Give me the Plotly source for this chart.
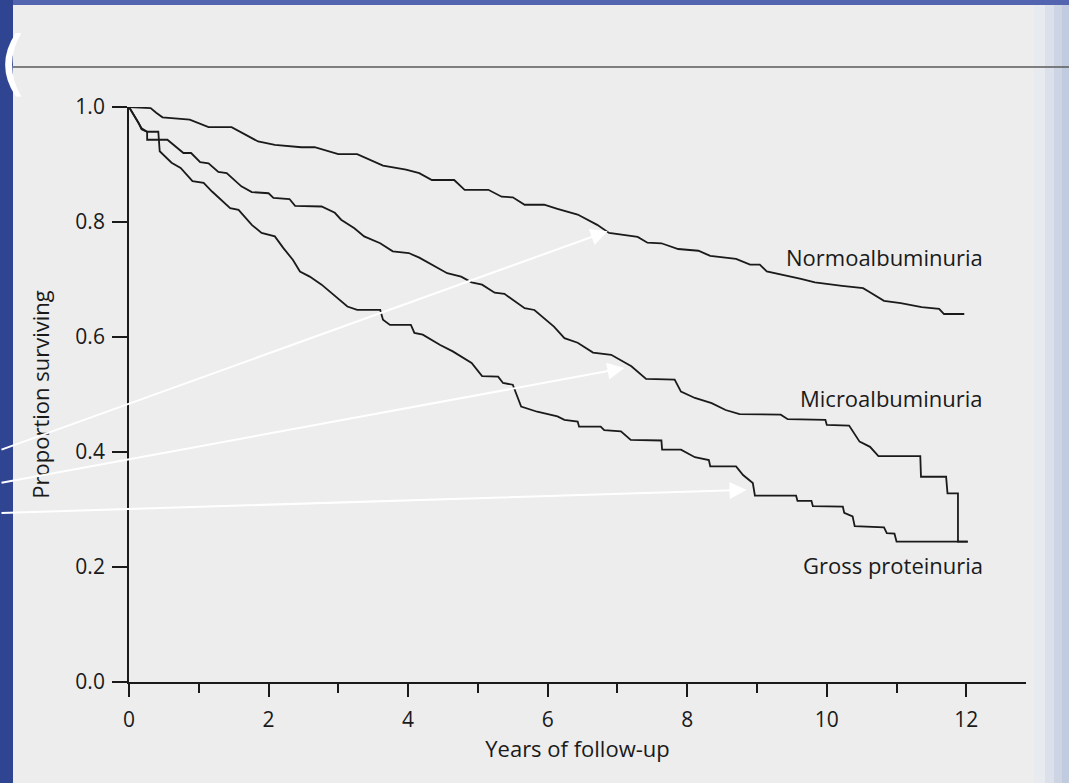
import plotly.graph_objects as go

# ---------------- data ----------------
normo_t = [0, 0.31, 0.39, 0.48, 0.87, 1.14, 1.47, 1.85, 2.09, 2.47, 2.66, 3.00, 3.27, 3.64, 3.97,
           4.16, 4.34, 4.66, 4.81, 5.15, 5.34, 5.50, 5.67, 5.95, 6.14, 6.43, 6.71, 6.88, 7.29, 7.43,
           7.63, 7.87, 8.16, 8.33, 8.70, 8.90, 9.04, 9.14, 9.63, 9.83, 10.22, 10.52, 10.60, 10.82,
           11.06, 11.36, 11.61, 11.68, 11.97]
normo_s = [1.000, 0.998, 0.990, 0.982, 0.978, 0.965, 0.965, 0.940, 0.934, 0.930, 0.930, 0.918, 0.918,
           0.898, 0.891, 0.885, 0.873, 0.873, 0.856, 0.856, 0.844, 0.843, 0.830, 0.830, 0.823, 0.813,
           0.795, 0.781, 0.774, 0.764, 0.763, 0.753, 0.750, 0.741, 0.736, 0.726, 0.726, 0.714, 0.701,
           0.695, 0.689, 0.685, 0.679, 0.663, 0.659, 0.652, 0.649, 0.640, 0.640]

micro_t = [0, 0.18, 0.26, 0.26, 0.55, 0.78, 0.89, 1.02, 1.14, 1.28, 1.40, 1.61, 1.76, 2.00, 2.07,
           2.30, 2.38, 2.76, 2.95, 3.04, 3.23, 3.37, 3.60, 3.78, 4.01, 4.16, 4.56, 4.76, 4.91, 5.06,
           5.24, 5.38, 5.67, 5.81, 6.09, 6.24, 6.43, 6.65, 6.91, 7.20, 7.41, 7.82, 7.91, 8.11, 8.35,
           8.55, 8.75, 9.04, 9.34, 9.44, 9.98, 10.00, 10.32, 10.47, 10.62, 10.74, 11.34, 11.35, 11.71,
           11.73, 11.88, 11.88, 12.02]
micro_s = [1.000, 0.963, 0.957, 0.943, 0.943, 0.920, 0.920, 0.904, 0.902, 0.887, 0.885, 0.862, 0.852,
           0.850, 0.842, 0.840, 0.828, 0.827, 0.816, 0.804, 0.789, 0.775, 0.763, 0.749, 0.746, 0.738,
           0.711, 0.705, 0.695, 0.691, 0.677, 0.675, 0.650, 0.647, 0.618, 0.598, 0.590, 0.573, 0.569,
           0.549, 0.527, 0.526, 0.505, 0.494, 0.485, 0.473, 0.466, 0.465, 0.465, 0.457, 0.456, 0.447,
           0.446, 0.418, 0.409, 0.393, 0.393, 0.357, 0.357, 0.328, 0.328, 0.244, 0.244]

gross_t = [0, 0.14, 0.18, 0.26, 0.42, 0.44, 0.61, 0.74, 0.91, 1.07, 1.19, 1.45, 1.57, 1.76, 1.90,
           2.09, 2.21, 2.35, 2.45, 2.59, 2.76, 2.90, 3.13, 3.27, 3.60, 3.64, 3.74, 4.04, 4.09, 4.21,
           4.46, 4.64, 4.91, 5.06, 5.29, 5.36, 5.50, 5.62, 5.85, 6.14, 6.24, 6.43, 6.45, 6.76, 6.81,
           7.05, 7.19, 7.63, 7.64, 7.91, 8.11, 8.31, 8.33, 8.70, 8.80, 8.94, 8.97, 9.56, 9.58, 9.78,
           9.80, 10.23, 10.25, 10.37, 10.40, 10.82, 10.86, 10.97, 11.00, 12.02]
gross_s = [1.000, 0.972, 0.961, 0.957, 0.957, 0.923, 0.903, 0.894, 0.871, 0.868, 0.853, 0.824, 0.821,
           0.795, 0.781, 0.775, 0.755, 0.734, 0.714, 0.705, 0.691, 0.676, 0.653, 0.647, 0.647, 0.630,
           0.621, 0.621, 0.607, 0.604, 0.586, 0.575, 0.555, 0.532, 0.531, 0.520, 0.517, 0.479, 0.470,
           0.462, 0.456, 0.453, 0.444, 0.444, 0.438, 0.436, 0.421, 0.420, 0.404, 0.404, 0.391, 0.386,
           0.375, 0.375, 0.360, 0.346, 0.324, 0.324, 0.315, 0.315, 0.306, 0.305, 0.294, 0.288, 0.271,
           0.269, 0.259, 0.258, 0.244, 0.244]

series_names = ["Normoalbuminuria", "Microalbuminuria", "Gross proteinuria"]
label_y = [0.740, 0.494, 0.204]
arrow_tip_t = [6.86, 7.10, 8.85]
arrow_tip_s = [0.784, 0.546, 0.334]

x_major = [0, 2, 4, 6, 8, 10, 12]
x_minor = [1, 3, 5, 7, 9, 11]
y_ticks = [0.0, 0.2, 0.4, 0.6, 0.8, 1.0]
y_ticktext = ["0.0", "0.2", "0.4", "0.6", "0.8", "1.0"]

# ---------------- figure ----------------
INK = "#1a1a1a"
PAGE = "#ededed"
FONT = "Open Sans"

fig = go.Figure()
for t, s, name in [(normo_t, normo_s, series_names[0]),
                   (micro_t, micro_s, series_names[1]),
                   (gross_t, gross_s, series_names[2])]:
    fig.add_trace(go.Scatter(x=t, y=s, mode="lines", name=name, showlegend=False,
                             line=dict(color=INK, width=1.8), cliponaxis=False,
                             hoverinfo="x+y+name"))

W, H = 1069, 783
L, R, T, B = 129, 43, 107, 101
pw, ph = W - L - R, H - T - B


def px(x):
    return (x - L) / pw


def py(y):
    return (H - B - y) / ph


shapes = [
    # blue slide background strips (left and top)
    dict(type="rect", xref="paper", yref="paper", x0=px(-10), x1=px(13), y0=py(800), y1=py(-10),
         fillcolor="#2f4592", line=dict(width=0), layer="below"),
    dict(type="rect", xref="paper", yref="paper", x0=px(13), x1=px(1080), y0=py(5), y1=py(-10),
         fillcolor="#5364b0", line=dict(width=0), layer="below"),
    # bluish scan edge at right
    dict(type="rect", xref="paper", yref="paper", x0=px(1034), x1=px(1045), y0=py(800), y1=py(5),
         fillcolor="#e7eaef", line=dict(width=0), layer="below"),
    dict(type="rect", xref="paper", yref="paper", x0=px(1045), x1=px(1054), y0=py(800), y1=py(5),
         fillcolor="#dbe0ea", line=dict(width=0), layer="below"),
    dict(type="rect", xref="paper", yref="paper", x0=px(1054), x1=px(1062), y0=py(800), y1=py(5),
         fillcolor="#cdd5e4", line=dict(width=0), layer="below"),
    dict(type="rect", xref="paper", yref="paper", x0=px(1062), x1=px(1080), y0=py(800), y1=py(5),
         fillcolor="#c0cbdf", line=dict(width=0), layer="below"),
    # horizontal rule at top of page
    dict(type="line", xref="paper", yref="paper", x0=px(13), x1=px(1080), y0=py(67), y1=py(67),
         line=dict(color="#5a5a5a", width=1.5)),
]

annotations = []
for name, ly in zip(series_names, label_y):
    annotations.append(dict(x=12.27, y=ly, xref="x", yref="y", text=name, showarrow=False,
                            xanchor="right", yanchor="middle",
                            font=dict(family=FONT, size=22, color=INK)))

tails = [(-617, 219), (-633, 115), (-754, 23)]
for tt, ss, (ax, ay) in zip(arrow_tip_t, arrow_tip_s, tails):
    annotations.append(dict(x=tt, y=ss, xref="x", yref="y", text="", showarrow=True,
                            ax=ax, ay=ay, arrowhead=2, arrowsize=1.7, arrowwidth=2,
                            arrowcolor="white", standoff=0))

# fragment of the slide title at top-left
annotations.append(dict(x=px(-3), y=py(62), xref="paper", yref="paper", text="(",
                        showarrow=False, xanchor="left", yanchor="middle",
                        font=dict(family="DejaVu Sans", size=72, color="white")))

fig.update_layout(
    width=W, height=H,
    margin=dict(l=L, r=R, t=T, b=B, pad=0),
    paper_bgcolor=PAGE, plot_bgcolor=PAGE,
    font=dict(family=FONT, color=INK, size=20),
    shapes=shapes, annotations=annotations,
    xaxis=dict(range=[0, 12.855], showgrid=False, zeroline=False,
               showline=True, linecolor=INK, linewidth=1.8,
               tickvals=x_major, ticks="outside", ticklen=13, tickwidth=1.7, tickcolor=INK,
               minor=dict(tickvals=x_minor, ticks="outside", ticklen=9, tickwidth=1.7, tickcolor=INK),
               tickfont=dict(family=FONT, size=21, color=INK), ticklabelstandoff=5,
               title=dict(text="Years of follow-up", font=dict(family=FONT, size=22, color=INK),
                          standoff=8)),
    yaxis=dict(range=[0, 1.0], showgrid=False, zeroline=False,
               showline=True, linecolor=INK, linewidth=1.8,
               tickvals=y_ticks, ticktext=y_ticktext, ticks="outside", ticklen=15, tickwidth=1.7,
               tickcolor=INK, tickfont=dict(family=FONT, size=21, color=INK), ticklabelstandoff=3,
               title=dict(text="Proportion surviving", font=dict(family=FONT, size=22, color=INK),
                          standoff=20)),
)

fig.write_html(
    "out.html",
    config={"displayModeBar": False},
    post_script="document.body.style.margin='0';document.body.style.padding='0';"
                "document.body.style.background='#2f4592';document.body.style.overflow='hidden';",
)
